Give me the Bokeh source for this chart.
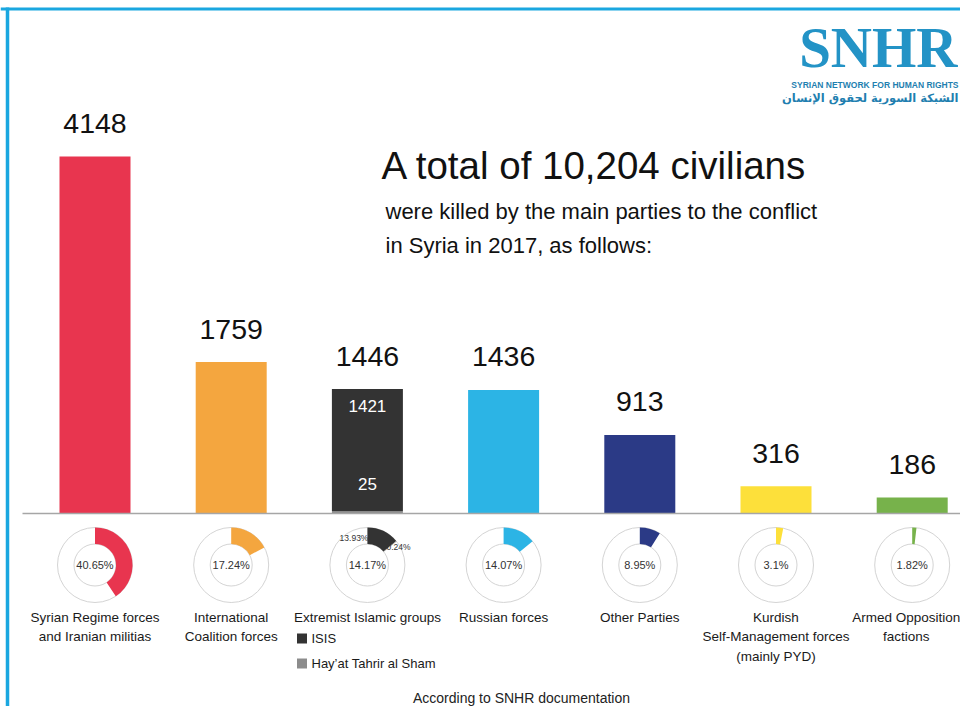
import math
from bokeh.plotting import figure
from bokeh.models import Range1d
from bokeh.core.properties import value
from bokeh.embed import file_html
from bokeh.resources import INLINE

# ---------------- data ----------------
categories = [
    "Syrian Regime forces\nand Iranian militias",
    "International\nCoalition forces",
    "Extremist Islamic groups",
    "Russian forces",
    "Other Parties",
    "Kurdish\nSelf-Management forces\n(mainly PYD)",
    "Armed Opposition\nfactions",
]
killed = [4148, 1759, 1446, 1436, 913, 316, 186]
share_pct = [40.65, 17.24, 14.17, 14.07, 8.95, 3.1, 1.82]
bar_colors = ["#e8354f", "#f4a63f", "#333333", "#2cb4e5", "#2b3a86", "#fde03a", "#77b24b"]

extremist_groups = ["ISIS", "Hay\u2019at Tahrir al Sham"]
extremist_killed = [1421, 25]
extremist_pct = [13.93, 0.24]
extremist_colors = ["#333333", "#8c8c8c"]

total_killed = 10204

# ---------------- layout helpers (screen px -> data) ----------------
W, H = 960, 706
BAR0_X = 94.5
BAR_STEP = 136.2
BASE_Y = 513
PX_PER_UNIT = 357 / 4148

def dx(X):
    return (X - BAR0_X) / BAR_STEP

def dy(Y):
    return (BASE_Y - Y) / PX_PER_UNIT

FONT = value("Liberation Sans")

p = figure(width=W, height=H,
           x_range=Range1d(dx(0), dx(W)),
           y_range=Range1d(dy(H), dy(0)),
           output_backend="svg", toolbar_location=None,
           x_axis_location=None, y_axis_location=None,
           min_border=0)
p.grid.visible = False
p.outline_line_color = None
p.background_fill_color = "white"

# frame lines (top and left)
FRAME = "#1aa7e0"
p.segment(x0=[dx(0)], y0=[dy(8.5)], x1=[dx(W)], y1=[dy(8.5)], line_color=FRAME, line_width=3)
p.segment(x0=[dx(7)], y0=[dy(7)], x1=[dx(7)], y1=[dy(H)], line_color=FRAME, line_width=3.5)

# ---------------- bars ----------------
xs = list(range(len(killed)))
simple = [i for i in xs if i != 2]
BW = 71 / BAR_STEP
p.vbar(x=simple, top=[killed[i] for i in simple], width=BW,
       fill_color=[bar_colors[i] for i in simple], line_color=None)

# stacked extremist bar: HTS at bottom, ISIS on top
hts_top = extremist_killed[1]
isis_top = hts_top + extremist_killed[0]
p.vbar(x=[2, 2], bottom=[0, hts_top], top=[hts_top, isis_top], width=BW,
       fill_color=[extremist_colors[1], extremist_colors[0]], line_color=None)

# baseline
p.segment(x0=[dx(22)], y0=[0], x1=[dx(W)], y1=[0], line_color="#a6a6a6", line_width=1.5)

# value labels
p.text(x=xs, y=killed, text=[str(v) for v in killed], y_offset=-33,
       text_align="center", text_baseline="middle", text_font=FONT,
       text_font_size="28.5px", text_color="#111111")

# inner labels of extremist bar
p.text(x=[2], y=[isis_top], text=[str(extremist_killed[0])], y_offset=17,
       text_align="center", text_baseline="middle", text_font=FONT,
       text_font_size="17px", text_color="white")
p.text(x=[2], y=[0], text=[str(extremist_killed[1])], y_offset=-30,
       text_align="center", text_baseline="middle", text_font=FONT,
       text_font_size="17px", text_color="white")

# ---------------- donuts ----------------
DY = dy(564.5)
R_OUT, R_IN = 37.5, 21
p.circle(x=xs, y=[DY] * len(xs), radius=R_OUT, radius_units="screen",
         fill_color=None, line_color="#d4d4d4", line_width=1)
p.circle(x=xs, y=[DY] * len(xs), radius=R_IN, radius_units="screen",
         fill_color=None, line_color="#d4d4d4", line_width=1)

start = math.pi / 2
p.annular_wedge(x=simple, y=[DY] * len(simple),
                inner_radius=R_IN, outer_radius=R_OUT,
                inner_radius_units="screen", outer_radius_units="screen",
                start_angle=[start] * len(simple),
                end_angle=[start - 2 * math.pi * share_pct[i] / 100 for i in simple],
                direction="clock",
                fill_color=[bar_colors[i] for i in simple], line_color=None)

a1 = start - 2 * math.pi * extremist_pct[0] / 100
a2 = a1 - 2 * math.pi * extremist_pct[1] / 100
p.annular_wedge(x=[2, 2], y=[DY, DY], inner_radius=R_IN, outer_radius=R_OUT,
                inner_radius_units="screen", outer_radius_units="screen",
                start_angle=[start, a1], end_angle=[a1, a2], direction="clock",
                fill_color=extremist_colors, line_color=None)

p.text(x=xs, y=[DY] * len(xs), text=[f"{v}%" for v in share_pct],
       text_align="center", text_baseline="middle", text_font=FONT,
       text_font_size="11px", text_color="#333333")

p.text(x=[dx(353.5), dx(398)], y=[dy(537), dy(546)],
       text=[f"{v}%" for v in extremist_pct],
       text_align="center", text_baseline="middle", text_font=FONT,
       text_font_size="8.5px", text_color="#333333")

# ---------------- category labels ----------------
label_shift = [0, 0, 0, 0, 0, 0, -6]
p.text(x=xs, y=[dy(609)] * len(xs), text=categories, x_offset=label_shift,
       text_align="center", text_baseline="top", text_font=FONT,
       text_font_size="13.5px", text_color="#1a1a1a", text_line_height=1.33)

# legend for extremist groups
p.scatter(x=[dx(301.5), dx(301.5)], y=[dy(638), dy(663)], marker="square", size=10,
          fill_color=extremist_colors, line_color=None)
p.text(x=[dx(311), dx(311)], y=[dy(638), dy(663)], text=extremist_groups,
       text_align="left", text_baseline="middle", text_font=FONT,
       text_font_size="13px", text_color="#1a1a1a")

# ---------------- titles ----------------
p.text(x=[dx(381)], y=[dy(165)], text=[f"A total of {total_killed:,} civilians"],
       text_align="left", text_baseline="middle", text_font=FONT,
       text_font_size="38.5px", text_color="#111111")
p.text(x=[dx(385), dx(385)], y=[dy(211), dy(245)],
       text=["were killed by the main parties to the conflict",
             "in Syria in 2017, as follows:"],
       text_align="left", text_baseline="middle", text_font=FONT,
       text_font_size="22px", text_color="#111111")

p.text(x=[dx(521)], y=[dy(697)], text=["According to SNHR documentation"],
       text_align="center", text_baseline="middle", text_font=FONT,
       text_font_size="14px", text_color="#222222")

# ---------------- logo ----------------
LOGO = "#2393c6"
p.text(x=[dx(957)], y=[dy(47)], text=["SNHR"], text_align="right", text_baseline="middle",
       text_font=value("Liberation Serif"), text_font_style="bold",
       text_font_size="57px", text_color=LOGO)
p.text(x=[dx(958)], y=[dy(84)], text=["SYRIAN NETWORK FOR HUMAN RIGHTS"],
       text_align="right", text_baseline="middle", text_font=FONT, text_font_style="bold",
       text_font_size="8.5px", text_color="#1f7fb0")
p.text(x=[dx(958)], y=[dy(97)], text=["الشبكة السورية لحقوق الإنسان"],
       text_align="right", text_baseline="middle", text_font=value("DejaVu Sans"),
       text_font_style="bold", text_font_size="11.5px", text_color="#1f7fb0")

open("out.html", "w").write(file_html(p, INLINE))
